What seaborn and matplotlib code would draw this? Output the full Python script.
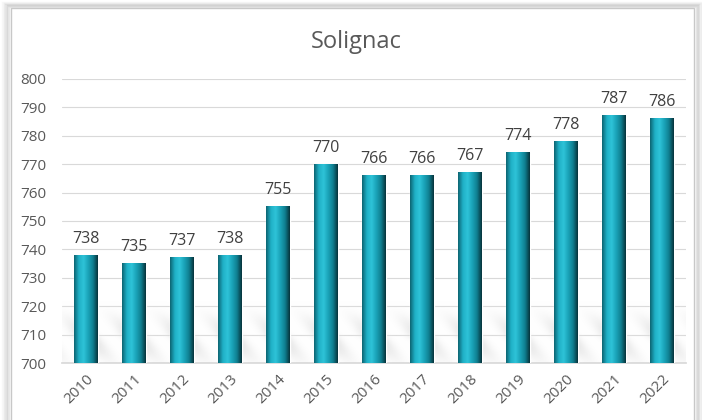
import numpy as np
import pandas as pd
import matplotlib
matplotlib.use('Agg')
import matplotlib.pyplot as plt
import seaborn as sns
from matplotlib.colors import LinearSegmentedColormap
from matplotlib.patches import Rectangle

years = ['2010', '2011', '2012', '2013', '2014', '2015', '2016',
         '2017', '2018', '2019', '2020', '2021', '2022']
population = [738, 735, 737, 738, 755, 770, 766, 766, 767, 774, 778, 787, 786]
y_ticks = [700, 710, 720, 730, 740, 750, 760, 770, 780, 790, 800]

df = pd.DataFrame({'year': years, 'pop': population})

sns.set_theme(style='white')
plt.rcParams['font.family'] = ['Open Sans', 'DejaVu Sans']

fig = plt.figure(figsize=(7.02, 4.2), dpi=100)
fig.patch.set_facecolor('white')

# frame with soft shadow like the spreadsheet chart
for i, a in enumerate([0.06, 0.08, 0.12, 0.18]):
    off = (4 - i) * 0.0025
    fig.patches.append(Rectangle((0.014 - off, -0.05), 0.976 + 2 * off, 1.033 + off,
                                 transform=fig.transFigure, facecolor='none',
                                 edgecolor='#808080', alpha=a, lw=2.5, zorder=-10))
fig.patches.append(Rectangle((0.016, -0.05), 0.972, 1.03, transform=fig.transFigure,
                             facecolor='white', edgecolor='#c8c8c8', lw=1, zorder=-9))

ax = fig.add_axes([0.0883, 0.1357, 0.8887, 0.6763])
ax.set_facecolor('none')
ax.set_zorder(2)

sns.barplot(data=df, x='year', y='pop', ax=ax, color='#1aa3b8', width=0.5,
            saturation=1, zorder=3)

y_lo, y_hi = y_ticks[0], y_ticks[-1]
n = len(years)
ax.set_ylim(y_lo, y_hi)
ax.set_xlim(-0.5, n - 0.5)
ax.set_yticks(y_ticks)
ax.yaxis.grid(True, color='#d9d9d9', lw=0.8, zorder=0)
ax.set_axisbelow(True)
for s in ax.spines.values():
    s.set_visible(False)
ax.spines['bottom'].set_visible(True)
ax.spines['bottom'].set_color('#d9d9d9')

ax.set_xlabel('')
ax.set_ylabel('')
ax.tick_params(axis='y', labelsize=11, labelcolor='#595959', length=0, pad=30)
ax.tick_params(axis='x', labelsize=11, labelcolor='#595959', length=0, pad=6)
for lab in ax.get_xticklabels():
    lab.set_rotation(45)
    lab.set_ha('right')
    lab.set_rotation_mode('anchor')
for lab in ax.get_yticklabels():
    lab.set_ha('left')

# cylinder-like gradient on bars
cmap = LinearSegmentedColormap.from_list(
    'teal', ['#0d6573', '#1fb0c6', '#2ec3d8', '#1aa3b8', '#0f7f90', '#07343c'])
grad = np.linspace(0, 1, 64).reshape(1, -1)
for bar in ax.patches:
    x0, w = bar.get_x(), bar.get_width()
    top = bar.get_y() + bar.get_height()
    bottom = max(bar.get_y(), y_lo)
    ax.imshow(grad, cmap=cmap, aspect='auto', extent=(x0, x0 + w, bottom, top),
              zorder=4)

# faint diagonal floor shadow behind the bars
gx = np.linspace(-0.5, n - 0.5, 600)
gy = np.linspace(0, 1, 60)
X, Y = np.meshgrid(gx, gy)
profile = np.where(Y < 0.6, Y / 0.6, 1 - (Y - 0.6) / 0.4 * 0.6)
stripes = 0.55 + 0.45 * np.cos(2 * np.pi * (X - 1.2 * Y - 0.3))
ax.imshow(profile * stripes,
          cmap=LinearSegmentedColormap.from_list('sh', ['#ffffff00', '#c4c4c4aa']),
          aspect='auto', extent=(-0.5, n - 0.5, y_lo, y_lo + 22), zorder=1,
          origin='upper', vmin=0, vmax=1)
ax.set_xlim(-0.5, n - 0.5)
ax.set_ylim(y_lo, y_hi)

for i, v in enumerate(population):
    ax.text(i, v + 3, str(v), ha='center', va='bottom', fontsize=11.5,
            color='#404040', zorder=5)

fig.text(0.507, 0.9, 'Solignac', ha='center', va='center', fontsize=17,
         color='#595959')

fig.savefig('out.png', dpi=100)
